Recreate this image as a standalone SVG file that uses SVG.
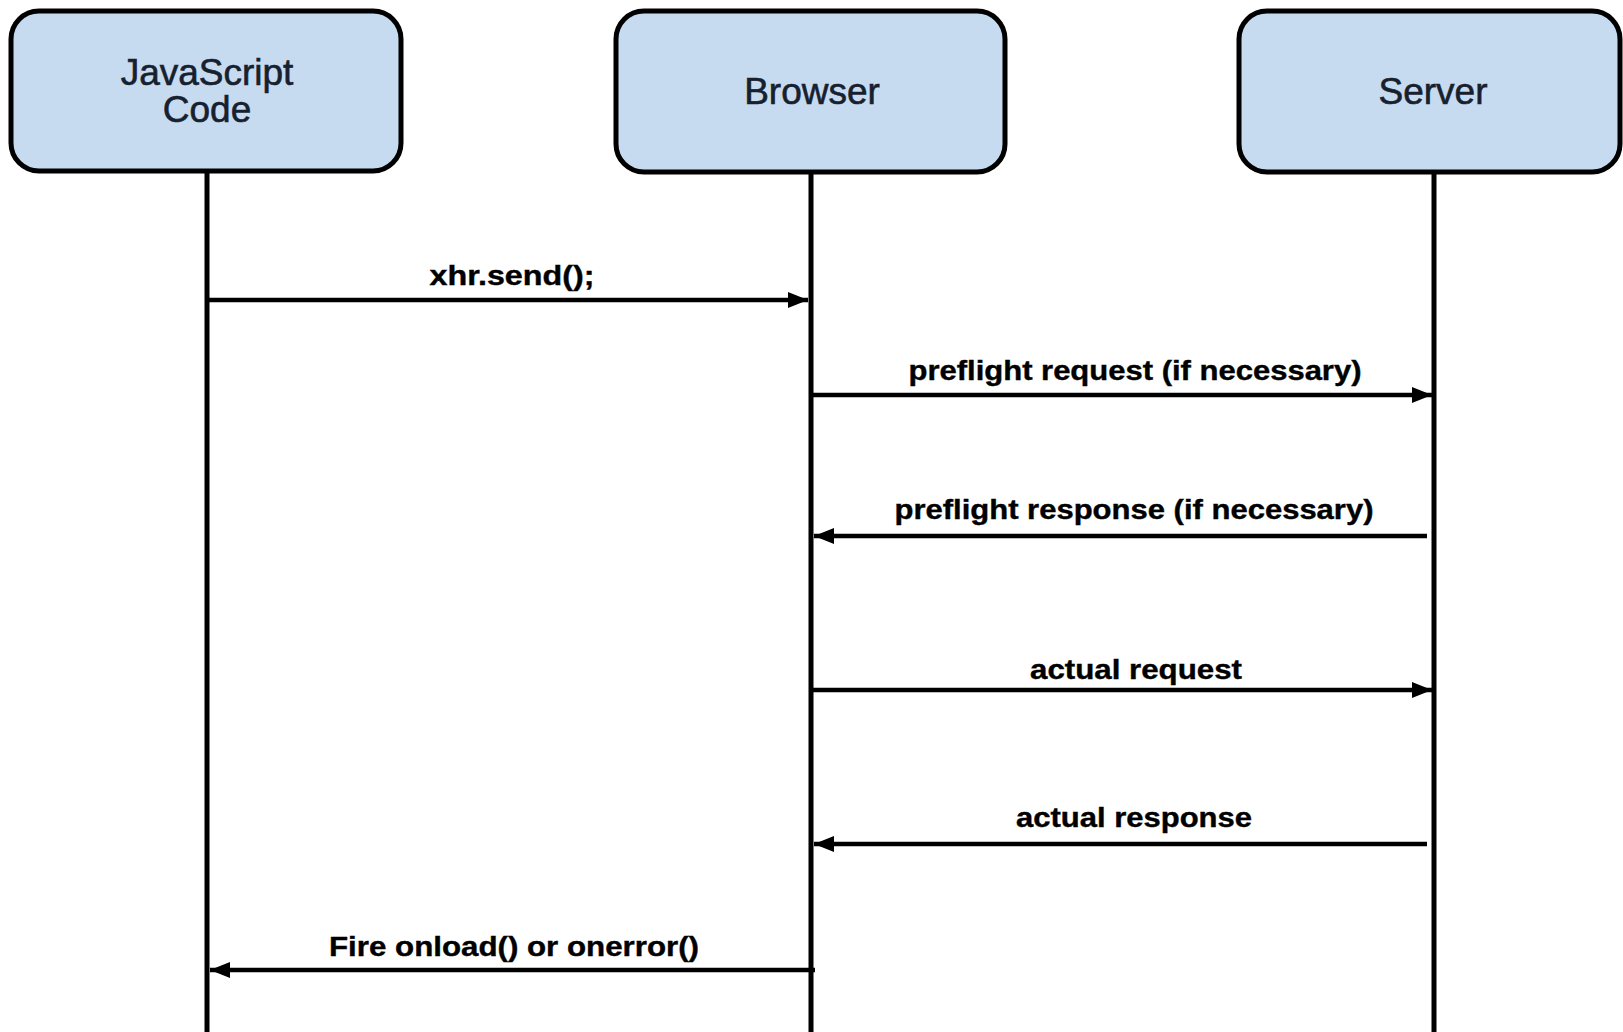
<svg xmlns="http://www.w3.org/2000/svg" width="1623" height="1032" viewBox="0 0 1623 1032">
<style>
.box{fill:#c6dbef;stroke:#000;stroke-width:5}
.life{stroke:#000;stroke-width:5;fill:none}
.msg{stroke:#000;stroke-width:4.5;fill:none}
.nt{font-family:"Liberation Sans",Arial,sans-serif;font-size:37px;fill:#16202e;stroke:#16202e;stroke-width:0.6;text-anchor:middle}
.lt{font-family:"Liberation Sans",Arial,sans-serif;font-size:28px;font-weight:bold;fill:#000;stroke:#000;stroke-width:0.4;text-anchor:middle}
</style>
<defs>
<marker id="ah" viewBox="0 0 20 16" refX="20" refY="8" markerWidth="20" markerHeight="16" markerUnits="userSpaceOnUse" orient="auto">
<path d="M0,0 L20,8 L0,16 Z" fill="#000"/>
</marker>
</defs>
<rect width="1623" height="1032" fill="#fff"/>
<g id="lifelines">
<line class="life" x1="207" y1="171" x2="207" y2="1032"/>
<line class="life" x1="811" y1="171" x2="811" y2="1032"/>
<line class="life" x1="1434" y1="171" x2="1434" y2="1032"/>
</g>
<g id="node-js">
<rect class="box" x="11" y="11" width="390" height="160" rx="28"/>
<text class="nt" x="207" y="85">JavaScript</text>
<text class="nt" x="207" y="122">Code</text>
</g>
<g id="node-browser">
<rect class="box" x="616" y="11" width="389" height="161" rx="28"/>
<text class="nt" x="812" y="104">Browser</text>
</g>
<g id="node-server">
<rect class="box" x="1239" y="11" width="381" height="161" rx="28"/>
<text class="nt" x="1433" y="104">Server</text>
</g>
<g id="connectors">
<line class="msg" x1="209" y1="300" x2="808" y2="300" marker-end="url(#ah)"/>
<line class="msg" x1="813" y1="395" x2="1432" y2="395" marker-end="url(#ah)"/>
<line class="msg" x1="1427" y1="536" x2="814" y2="536" marker-end="url(#ah)"/>
<line class="msg" x1="813" y1="690" x2="1432" y2="690" marker-end="url(#ah)"/>
<line class="msg" x1="1427" y1="844" x2="814" y2="844" marker-end="url(#ah)"/>
<line class="msg" x1="815" y1="970" x2="210" y2="970" marker-end="url(#ah)"/>
<text class="lt" x="512" y="285" textLength="165" lengthAdjust="spacingAndGlyphs">xhr.send();</text>
<text class="lt" x="1135" y="380" textLength="453" lengthAdjust="spacingAndGlyphs">preflight request (if necessary)</text>
<text class="lt" x="1134" y="519" textLength="479" lengthAdjust="spacingAndGlyphs">preflight response (if necessary)</text>
<text class="lt" x="1136" y="679" textLength="212" lengthAdjust="spacingAndGlyphs">actual request</text>
<text class="lt" x="1134" y="827" textLength="236" lengthAdjust="spacingAndGlyphs">actual response</text>
<text class="lt" x="514" y="956" textLength="370" lengthAdjust="spacingAndGlyphs">Fire onload() or onerror()</text>
</g>
</svg>
